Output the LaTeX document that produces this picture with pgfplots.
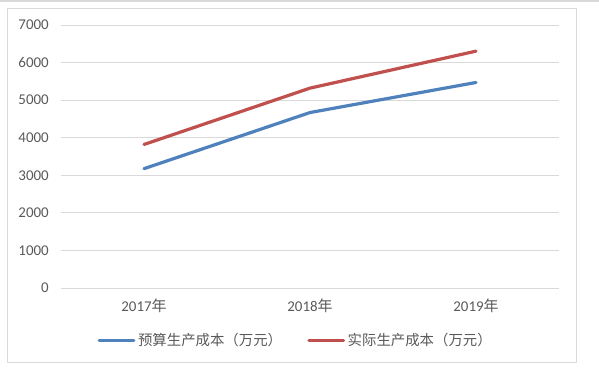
\documentclass[border=0pt]{standalone}
\usepackage{pgfplots}
\pgfplotsset{compat=1.18}
\usetikzlibrary{calc}
\usepackage{fontspec}
\setmainfont{Carlito}
\newfontfamily\cjk{Noto Sans CJK SC}
\definecolor{gridc}{HTML}{D9D9D9}
\definecolor{txt}{HTML}{595959}
\definecolor{blu}{HTML}{4F81BD}
\definecolor{rd}{HTML}{C0504D}
\begin{document}
\begin{tikzpicture}
\begin{axis}[
  scale only axis, width=373.5pt, height=197.25pt,
  xmin=-0.5, xmax=2.5, ymin=0, ymax=7000,
  xtick={0,1,2},
  xticklabels={2017{\cjk 年},2018{\cjk 年},2019{\cjk 年}},
  ytick={0,1000,...,7000},
  ymajorgrids, grid style={gridc, line width=0.75pt},
  axis line style={draw=none},
  major tick length=0pt,
  /pgf/number format/assume math mode=true,
  /pgf/number format/1000 sep={},
  tick label style={font=\fontsize{11.2}{13}\selectfont, text=txt},
  yticklabel style={anchor=east, inner sep=0pt, xshift=-9pt},
  xticklabel style={anchor=base, inner sep=0pt, yshift=-17.25pt},
  legend columns=2,
  legend style={at={(axis description cs:0.472,0)}, anchor=center, yshift=-39pt,
    draw=none, fill=none, font=\cjk\fontsize{10.8}{12}\selectfont, text=txt,
    /tikz/every even column/.append style={column sep=17pt},
    inner sep=0pt},
  legend image code/.code={\draw[#1, line width=2.25pt] (0pt,0pt) -- (26pt,0pt);},
]
\addplot[blu, line width=2.4pt, line join=round, line cap=round] coordinates {(0,3176) (1,4670) (2,5470)};
\addlegendentry{预算生产成本（万元）}
\addplot[rd, line width=2.4pt, line join=round, line cap=round] coordinates {(0,3820) (1,5320) (2,6304)};
\addlegendentry{实际生产成本（万元）}
\end{axis}
\draw[gridc, line width=0.75pt] ($(current axis.south west)+(-39.75pt,-55.5pt)$) rectangle ($(current axis.north east)+(12.75pt,12.75pt)$);
\path ($(current axis.south west)+(-45.75pt,-66pt)$) rectangle ($(current axis.north east)+(30pt,18.75pt)$);
\fill[gridc] ($(current axis.north west)+(-45.75pt,18.75pt)$) rectangle ($(current axis.north east)+(30pt,17.25pt)$);
\end{tikzpicture}
\end{document}
